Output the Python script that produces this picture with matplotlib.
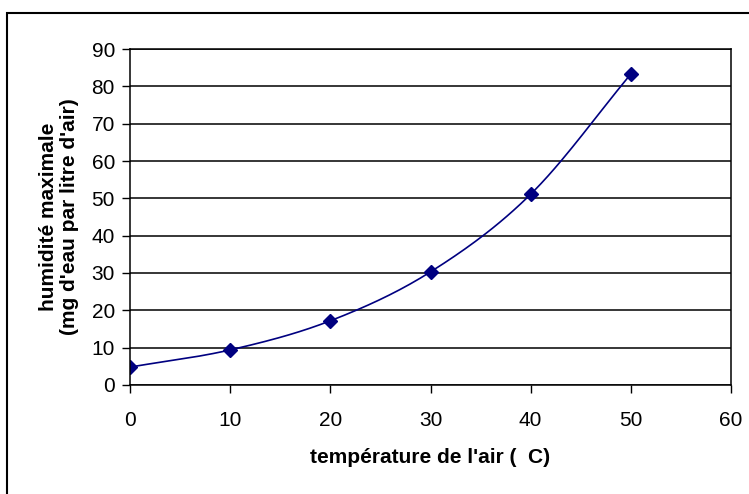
import numpy as np
import matplotlib.pyplot as plt
from matplotlib.patches import Rectangle

temperature = [0, 10, 20, 30, 40, 50]
humidite = [4.8, 9.4, 17.2, 30.3, 51.1, 83.3]
x_ticks = [0, 10, 20, 30, 40, 50, 60]
y_ticks = [0, 10, 20, 30, 40, 50, 60, 70, 80, 90]

plt.rcParams['font.family'] = ['Liberation Sans', 'DejaVu Sans']


def smooth(xs, ys, n=30):
    # courbe lissée type Excel (Catmull-Rom)
    xs = np.asarray(xs, float)
    ys = np.asarray(ys, float)
    px = np.concatenate([[2 * xs[0] - xs[1]], xs, [2 * xs[-1] - xs[-2]]])
    py = np.concatenate([[2 * ys[0] - ys[1]], ys, [2 * ys[-1] - ys[-2]]])
    ox, oy = [], []
    t = np.linspace(0, 1, n)
    for i in range(1, len(px) - 2):
        for p, out in ((px, ox), (py, oy)):
            p0, p1, p2, p3 = p[i - 1], p[i], p[i + 1], p[i + 2]
            out.extend(0.5 * ((2 * p1) + (-p0 + p2) * t
                              + (2 * p0 - 5 * p1 + 4 * p2 - p3) * t ** 2
                              + (-p0 + 3 * p1 - 3 * p2 + p3) * t ** 3))
    return ox, oy


fig = plt.figure(figsize=(7.49, 4.94), dpi=100)
ax = fig.add_axes([130 / 749, 1 - 385 / 494, 601 / 749, 336 / 494])

sx, sy = smooth(temperature, humidite)
ax.plot(sx, sy, color='#000080', lw=1.2)
ax.plot(temperature, humidite, linestyle='none', marker='D', markersize=7,
        color='#000080')

ax.set_xlim(0, 60)
ax.set_ylim(0, 90)
ax.set_xticks(x_ticks)
ax.set_yticks(y_ticks)
ax.grid(axis='y', color='black', lw=1.1)
ax.set_axisbelow(True)
for s in ax.spines.values():
    s.set_color('black')
    s.set_linewidth(1.1)
ax.tick_params(direction='out', length=5.8, width=1, labelsize=15, colors='black')
ax.tick_params(axis='x', pad=13)
ax.tick_params(axis='y', pad=5)

ax.set_xlabel("température de l'air (  C)", fontsize=15, fontweight='bold',
              labelpad=13)
ax.set_ylabel("humidité maximale\n(mg d'eau par litre d'air)", fontsize=15,
              fontweight='bold', labelpad=9, linespacing=1.15)

fig.patches.append(Rectangle((7 / 749, -0.1), 1.1, 1 - 13 / 494 + 0.1,
                             transform=fig.transFigure, fill=False,
                             edgecolor='black', lw=1.5))

fig.savefig('out.png', dpi=100)
